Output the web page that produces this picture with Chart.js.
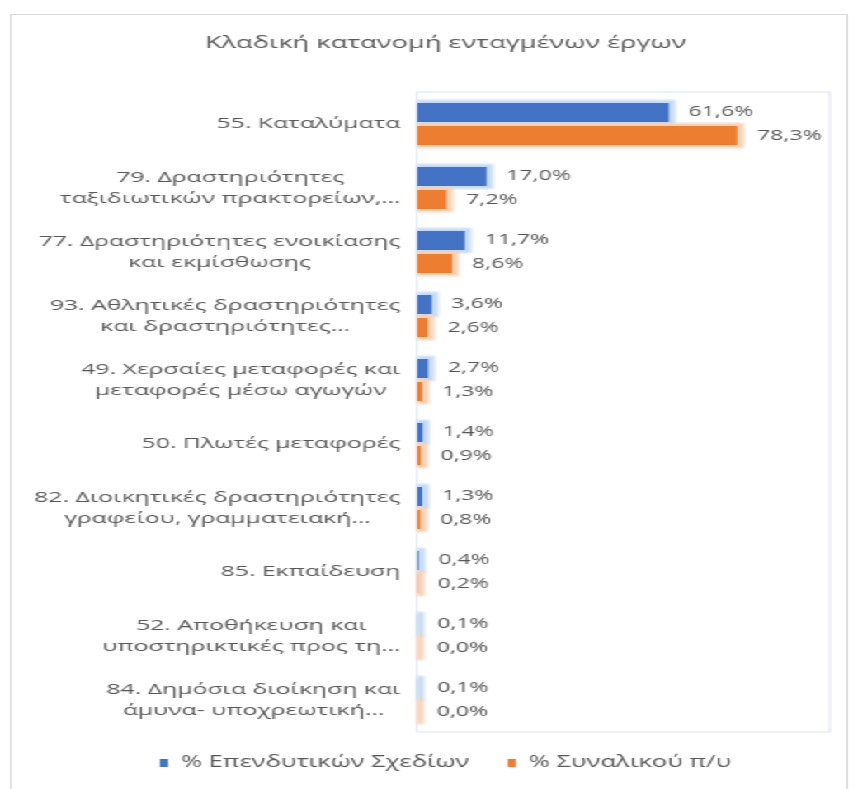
<!DOCTYPE html>
<html lang="el">
<head>
<meta charset="utf-8">
<title>Κλαδική κατανομή ενταγμένων έργων</title>
<script src="https://cdn.jsdelivr.net/npm/chart.js@4.4.1/dist/chart.umd.min.js"></script>
<style>
	html, body { margin: 0; padding: 0; background: #fff; overflow: hidden; }
	/* the reference picture is stretched sideways, so the whole chart is too */
	#stretch { position: absolute; left: 0; top: 0; width: 522px; height: 789px; transform: scaleX(1.65); transform-origin: 0 0; }
	#frame { position: absolute; left: 6px; top: 14px; width: 506px; height: 800px; border: 1px solid #d9d9d9; }
	#box { position: relative; width: 506px; height: 774px; }
</style>
</head>
<body>
<div id="stretch">
	<div id="frame">
		<div id="box"><canvas id="mycanvas"></canvas></div>
	</div>
</div>
<script>
var chartTitle = "Κλαδική κατανομή ενταγμένων έργων";

var categories = [
	["55. Καταλύματα"],
	["79. Δραστηριότητες", "ταξιδιωτικών πρακτορείων,…"],
	["77. Δραστηριότητες ενοικίασης", "και εκμίσθωσης"],
	["93. Αθλητικές δραστηριότητες", "και δραστηριότητες…"],
	["49. Χερσαίες μεταφορές και", "μεταφορές μέσω αγωγών"],
	["50. Πλωτές μεταφορές"],
	["82. Διοικητικές δραστηριότητες", "γραφείου, γραμματειακή…"],
	["85. Εκπαίδευση"],
	["52. Αποθήκευση και", "υποστηρικτικές προς τη…"],
	["84. Δημόσια διοίκηση και", "άμυνα- υποχρεωτική…"]
];

var seriesNames = ["% Επενδυτικών Σχεδίων", "% Συναλικού π/υ"];
var investmentPlans = [61.6, 17.0, 11.7, 3.6, 2.7, 1.4, 1.3, 0.4, 0.1, 0.1];
var totalBudget = [78.3, 7.2, 8.6, 2.6, 1.3, 0.9, 0.8, 0.2, 0.0, 0.0];

var barColors = ["#4472C4", "#ED7D31"];
var glowColors = ["#C5DAF3", "#FAD0B2"];
var textColor = "#595959";
var fontName = "'Open Sans', sans-serif";

function pct(v) {
	return v.toFixed(1).replace(".", ",") + "%";
}

// light glow round every bar, drawn before the bars themselves
var glowPlugin = {
	id: "glow",
	beforeDatasetsDraw: function(chart) {
		var ctx = chart.ctx;
		ctx.save();
		ctx.filter = "blur(1px)";
		chart.data.datasets.forEach(function(ds, di) {
			ctx.fillStyle = glowColors[di];
			chart.getDatasetMeta(di).data.forEach(function(bar) {
				var p = bar.getProps(["x", "y", "base", "height"], true);
				ctx.fillRect(p.base, p.y - p.height / 2 - 3, p.x - p.base + 4, p.height + 6);
			});
		});
		ctx.restore();
	}
};

// plot frame, value labels and centred category labels
var textPlugin = {
	id: "texts",
	beforeDraw: function(chart) {
		var a = chart.chartArea;
		var ctx = chart.ctx;
		ctx.save();
		ctx.strokeStyle = "#DDE3EE";
		ctx.lineWidth = 1;
		ctx.strokeRect(a.left, a.top, a.right - a.left, a.bottom - a.top);
		ctx.restore();
	},
	afterDatasetsDraw: function(chart) {
		var ctx = chart.ctx;
		ctx.save();
		ctx.fillStyle = textColor;
		ctx.textBaseline = "middle";

		ctx.font = "14px " + fontName;
		ctx.textAlign = "left";
		chart.data.datasets.forEach(function(ds, di) {
			chart.getDatasetMeta(di).data.forEach(function(bar, i) {
				ctx.fillText(pct(ds.data[i]), bar.x + 12, bar.y);
			});
		});

		ctx.font = "15px " + fontName;
		ctx.textAlign = "center";
		var yScale = chart.scales.y;
		var right = chart.chartArea.left - 10;
		var lineH = 21;
		categories.forEach(function(lines, i) {
			var w = 0;
			lines.forEach(function(l) { w = Math.max(w, ctx.measureText(l).width); });
			var cy = yScale.getPixelForTick(i);
			lines.forEach(function(l, k) {
				ctx.fillText(l, right - w / 2, cy + (k - (lines.length - 1) / 2) * lineH);
			});
		});
		ctx.restore();
	}
};

var chartdata = {
	labels: categories,
	datasets: [
		{
			label: seriesNames[0],
			backgroundColor: barColors[0],
			borderWidth: 0,
			data: investmentPlans
		},
		{
			label: seriesNames[1],
			backgroundColor: barColors[1],
			borderWidth: 0,
			data: totalBudget
		}
	]
};

var ctx = document.getElementById("mycanvas");

var barChart = new Chart(ctx, {
	type: "bar",
	data: chartdata,
	plugins: [glowPlugin, textPlugin],
	options: {
		indexAxis: "y",
		responsive: true,
		maintainAspectRatio: false,
		animation: false,
		categoryPercentage: 0.72,
		barPercentage: 0.83,
		layout: { padding: { left: 30, right: 10, top: 0, bottom: 8.25 } },
		scales: {
			x: { display: false, min: 0, max: 101 },
			y: {
				grid: { display: false, drawTicks: false },
				border: { display: false },
				ticks: { display: false },
				afterFit: function(scale) { scale.width = 215.7; }
			}
		},
		plugins: {
			title: {
				display: true,
				text: chartTitle,
				color: textColor,
				font: { family: fontName, size: 16.5, weight: "normal" },
				padding: { top: 18.1, bottom: 39.1 }
			},
			legend: {
				position: "bottom",
				labels: {
					color: textColor,
					font: { family: fontName, size: 15.5 },
					boxWidth: 5,
					boxHeight: 8,
					padding: 23.25
				}
			},
			tooltip: { enabled: false }
		}
	}
});
</script>
</body>
</html>
